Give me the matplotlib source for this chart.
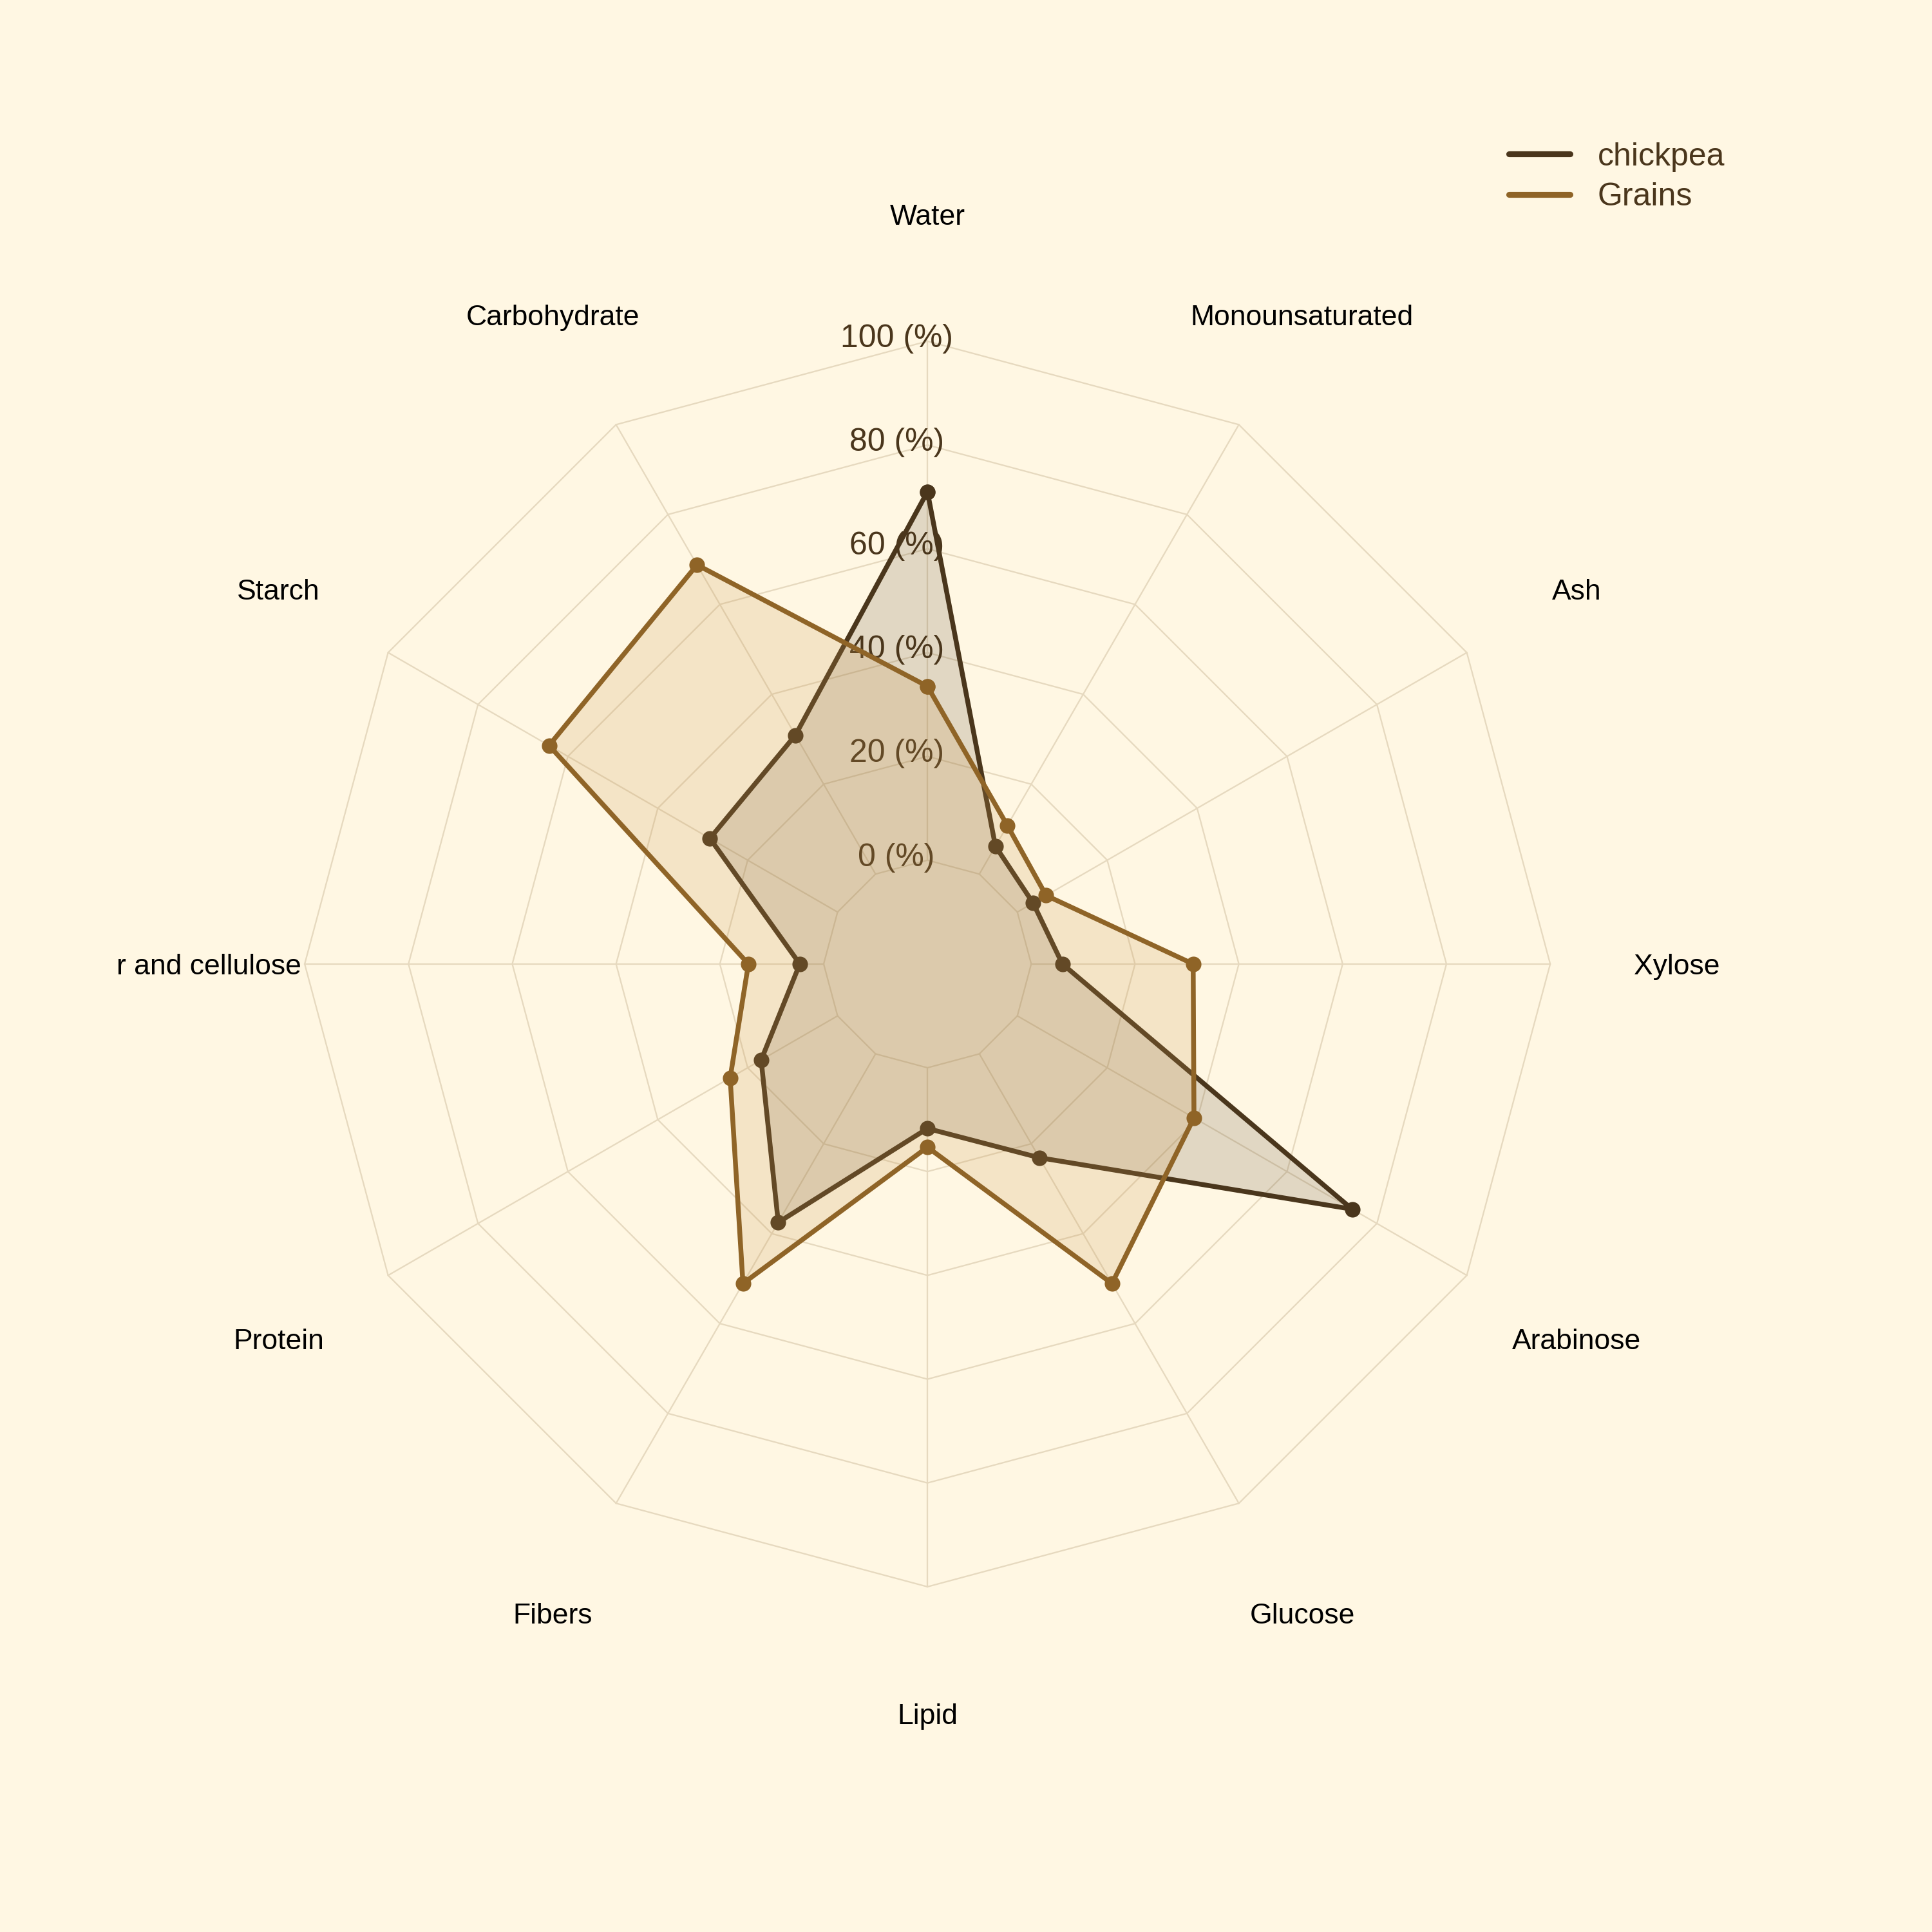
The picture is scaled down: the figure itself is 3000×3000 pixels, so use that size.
import numpy as np
import matplotlib.pyplot as plt
from matplotlib.lines import Line2D
from matplotlib.transforms import offset_copy

plt.rcParams['font.family'] = ['Liberation Sans', 'DejaVu Sans']

# data, clockwise from the top
categories = ['Water', 'Monounsaturated', 'Ash', 'Xylose', 'Arabinose', 'Glucose',
              'Lipid', 'Fibers', 'Protein', 'r and cellulose', 'Starch', 'Carbohydrate']
chickpea = [71.0, 6.2, 3.5, 6.0, 74.5, 23.1, 11.7, 37.5, 17.0, 4.6, 28.4, 30.9]
grains = [33.5, 10.8, 6.4, 31.2, 39.3, 51.1, 15.3, 51.1, 23.9, 14.5, 64.2, 68.8]
rticks = [0, 20, 40, 60, 80, 100]
rtick_labels = ['0 (%)', '20 (%)', '40 (%)', '60 (%)', '80 (%)', '100 (%)']

bg = '#fff7e3'
gridc = '#e6d9bf'
c_chick = '#4a361c'
c_grain = '#8f6427'

fig = plt.figure(figsize=(10, 10), dpi=300, facecolor=bg)
ax = fig.add_axes([0.1577, 0.1787, 0.6447, 0.6447], projection='polar')
ax.set_theta_offset(np.pi / 2)
ax.set_theta_direction(-1)
ax.set_rorigin(-20)
ax.set_ylim(0, 100)
ax.grid(False)
ax.set_xticks([])
ax.set_yticks([])
ax.axis('off')
ax.patch.set_visible(False)

n = len(categories)
theta = np.linspace(0, 2 * np.pi, n, endpoint=False)
closed = np.append(theta, theta[0])

# polygon grid
for v in rticks:
    ax.plot(closed, [v] * (n + 1), color=gridc, lw=0.55, zorder=1, clip_on=False)
for t in theta:
    ax.plot([t, t], [0, 100], color=gridc, lw=0.55, zorder=1, clip_on=False)

# radial tick labels along the Water spoke
trans = offset_copy(ax.transData, fig=fig, x=-48, y=4, units='dots')
for v, lab in zip(rticks, rtick_labels):
    ax.text(0, v, lab, transform=trans, ha='center', va='center',
            fontsize=12, color=c_chick, zorder=1.5)

# category labels
for t, name in zip(theta, categories):
    if name.startswith('r and'):
        ax.text(t, 100.7, name, ha='right', va='center_baseline', fontsize=10.7, color='black')
    else:
        ax.text(t, 124.4, name, ha='center', va='center_baseline', fontsize=10.7, color='black')

# series
ch = np.append(chickpea, chickpea[0])
gr = np.append(grains, grains[0])
ax.fill(closed, ch, color=c_chick, alpha=0.16, lw=0, zorder=2, clip_on=False)
ax.plot(closed, ch, color=c_chick, lw=1.8, marker='o', ms=4.8,
        solid_joinstyle='round', zorder=3, clip_on=False)
ax.fill(closed, gr, color='#c89852', alpha=0.2, lw=0, zorder=4, clip_on=False)
ax.plot(closed, gr, color=c_grain, lw=1.8, marker='o', ms=4.8,
        solid_joinstyle='round', zorder=5, clip_on=False)

handles = [Line2D([], [], color=c_chick, lw=2.2, solid_capstyle='round'),
           Line2D([], [], color=c_grain, lw=2.2, solid_capstyle='round')]
leg = fig.legend(handles, ['chickpea', 'Grains'], loc='upper left',
                 bbox_to_anchor=(0.781, 0.9264), frameon=False, fontsize=12,
                 handlelength=1.9, handletextpad=0.85, labelspacing=0.33,
                 borderpad=0, borderaxespad=0)
for txt in leg.get_texts():
    txt.set_color(c_chick)

fig.savefig('out.png', dpi=300, facecolor=bg)
